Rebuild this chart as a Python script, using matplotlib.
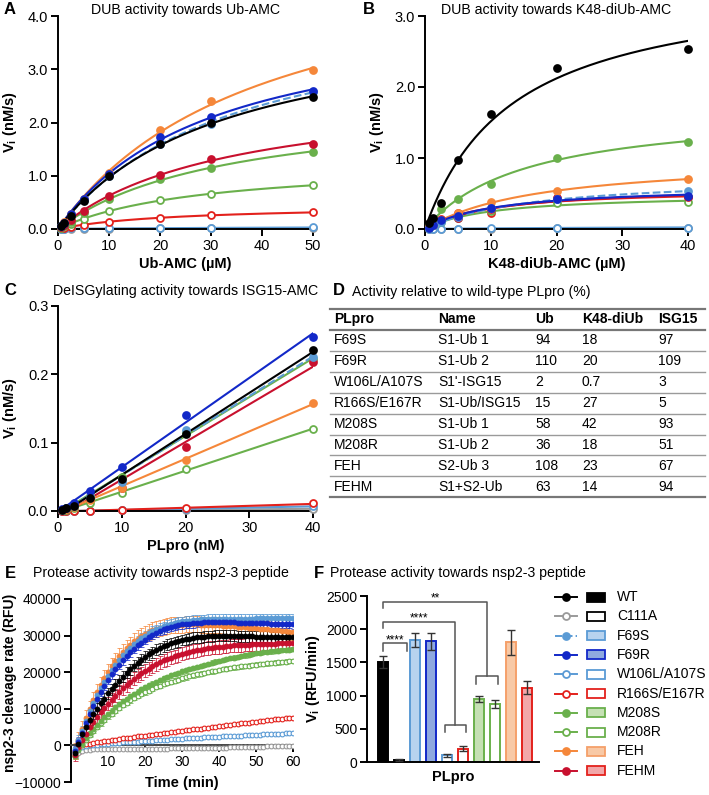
import numpy as np
import matplotlib
matplotlib.use('Agg')
import matplotlib.pyplot as plt
from matplotlib.patches import Rectangle

plt.rcParams['font.family'] = ['Liberation Sans', 'DejaVu Sans']
plt.rcParams['mathtext.fontset'] = 'custom'
plt.rcParams['mathtext.rm'] = 'Liberation Sans'
plt.rcParams['mathtext.bf'] = 'Liberation Sans:bold'
plt.rcParams['font.size'] = 10

# ---------------- data ----------------
variants = ['WT', 'C111A', 'F69S', 'F69R', 'W106L/A107S', 'R166S/E167R',
            'M208S', 'M208R', 'FEH', 'FEHM']
line_colors = ['#000000', '#9a9a9a', '#5b9bd5', '#1228c8', '#5b9bd5', '#e3211c',
               '#6ab04c', '#6ab04c', '#f5873a', '#c8102e']
filled = [True, False, True, True, False, False, True, False, True, True]
line_styles = ['-', '-', '--', '-', '-', '-', '-', '-', '-', '-']
bar_fill = ['#000000', '#ffffff', '#b7d3ef', '#8fa9df', '#ffffff', '#ffffff',
            '#c5e0b4', '#ffffff', '#f8c9a6', '#f2a7a9']
bar_edge = ['#000000', '#000000', '#5b9bd5', '#1228c8', '#5b9bd5', '#e3211c',
            '#6ab04c', '#6ab04c', '#f5a06a', '#e3211c']

# Panel A: Ub-AMC (uM) vs Vi (nM/s)
ub_conc = [0.625, 1.25, 2.5, 5, 10, 20, 30, 50]
ub_vi = {
    'WT':          [0.05, 0.11, 0.25, 0.52, 0.99, 1.59, 2.00, 2.47],
    'C111A':       [0.00, 0.00, 0.00, 0.00, 0.00, 0.01, 0.01, 0.01],
    'F69S':        [0.05, 0.12, 0.27, 0.55, 1.00, 1.60, 1.98, 2.58],
    'F69R':        [0.06, 0.12, 0.28, 0.57, 1.04, 1.73, 2.10, 2.60],
    'W106L/A107S': [0.00, 0.00, 0.01, 0.01, 0.01, 0.01, 0.02, 0.03],
    'R166S/E167R': [0.01, 0.02, 0.04, 0.08, 0.14, 0.21, 0.26, 0.31],
    'M208S':       [0.03, 0.07, 0.14, 0.30, 0.57, 0.94, 1.15, 1.45],
    'M208R':       [0.02, 0.05, 0.10, 0.19, 0.34, 0.54, 0.66, 0.82],
    'FEH':         [0.06, 0.13, 0.28, 0.56, 1.06, 1.86, 2.40, 2.98],
    'FEHM':        [0.04, 0.08, 0.17, 0.34, 0.62, 1.02, 1.32, 1.60],
}

# Panel B: K48-diUb-AMC (uM) vs Vi (nM/s)
k48_conc = [0.625, 1.25, 2.5, 5, 10, 20, 40]
k48_vi = {
    'WT':          [0.08, 0.16, 0.37, 0.97, 1.62, 2.27, 2.53],
    'C111A':       [0.00, 0.00, 0.00, 0.00, 0.00, 0.01, 0.01],
    'F69S':        [0.02, 0.05, 0.10, 0.17, 0.29, 0.42, 0.53],
    'F69R':        [0.02, 0.06, 0.12, 0.18, 0.30, 0.42, 0.47],
    'W106L/A107S': [0.00, 0.00, 0.00, 0.00, 0.01, 0.02, 0.02],
    'R166S/E167R': [0.03, 0.07, 0.14, 0.22, 0.23, 0.43, 0.45],
    'M208S':       [0.05, 0.12, 0.28, 0.42, 0.64, 1.00, 1.23],
    'M208R':       [0.02, 0.05, 0.10, 0.15, 0.25, 0.36, 0.38],
    'FEH':         [0.03, 0.06, 0.12, 0.22, 0.38, 0.54, 0.70],
    'FEHM':        [0.03, 0.06, 0.13, 0.15, 0.28, 0.44, 0.45],
}

# Panel C: PLpro (nM) vs Vi (nM/s) towards ISG15-AMC
isg_conc = [0.625, 1.25, 2.5, 5, 10, 20, 40]
isg_vi = {
    'WT':          [0.002, 0.004, 0.007, 0.019, 0.047, 0.112, 0.235],
    'C111A':       [0.000, 0.000, 0.000, 0.000, 0.001, 0.002, 0.003],
    'F69S':        [0.002, 0.004, 0.008, 0.020, 0.043, 0.118, 0.225],
    'F69R':        [0.003, 0.005, 0.012, 0.030, 0.065, 0.140, 0.255],
    'W106L/A107S': [0.000, 0.000, 0.000, 0.000, 0.001, 0.003, 0.007],
    'R166S/E167R': [0.000, 0.000, 0.000, 0.000, 0.001, 0.004, 0.011],
    'M208S':       [0.002, 0.004, 0.009, 0.022, 0.050, 0.115, 0.222],
    'M208R':       [0.001, 0.002, 0.004, 0.011, 0.027, 0.061, 0.120],
    'FEH':         [0.001, 0.003, 0.006, 0.016, 0.033, 0.075, 0.158],
    'FEHM':        [0.001, 0.003, 0.007, 0.018, 0.033, 0.093, 0.218],
}

# Panel D: table
table_header = ['PLpro', 'Name', 'Ub', 'K48-diUb', 'ISG15']
table_plpro = ['F69S', 'F69R', 'W106L/A107S', 'R166S/E167R', 'M208S', 'M208R', 'FEH', 'FEHM']
table_name = ['S1-Ub 1', 'S1-Ub 2', "S1'-ISG15", 'S1-Ub/ISG15', 'S1-Ub 1', 'S1-Ub 2', 'S2-Ub 3', 'S1+S2-Ub']
table_ub = ['94', '110', '2', '15', '58', '36', '108', '63']
table_k48 = ['18', '20', '0.7', '27', '42', '18', '23', '14']
table_isg = ['97', '109', '3', '5', '93', '51', '67', '94']

# Panel E: time course (min) vs RFU
time_min = list(range(1, 61))
nsp_rfu = {
    'WT': [-2000, 500, 3000, 5000, 7000, 8600, 10000, 11500, 12800, 14200,
           15400, 16600, 17700, 18800, 19800, 20800, 21700, 22600, 23400, 24200,
           24900, 25500, 26100, 26600, 27100, 27500, 27900, 28200, 28500, 28800,
           29000, 29200, 29400, 29500, 29600, 29700, 29800, 29800, 29900, 29900,
           29900, 29900, 29900, 29900, 29800, 29800, 29800, 29800, 29800, 29700,
           29700, 29700, 29700, 29600, 29600, 29600, 29600, 29500, 29500, 29500],
    'C111A': [-3000, -2000, -1500, -1300, -1200, -1100, -1100, -1000, -1000, -1000,
              -1000, -1000, -1000, -1000, -1000, -1000, -1000, -1000, -900, -900,
              -900, -900, -900, -900, -900, -900, -800, -800, -800, -800,
              -800, -800, -700, -700, -700, -700, -700, -600, -600, -600,
              -600, -600, -500, -500, -500, -500, -500, -400, -400, -400,
              -400, -400, -300, -300, -300, -300, -300, -200, -200, -200],
    'F69S': [-1000, 1500, 4000, 6800, 9300, 11600, 13700, 15600, 17400, 19000,
             20600, 22000, 23400, 24600, 25700, 26700, 27600, 28500, 29300, 30000,
             30600, 31200, 31700, 32100, 32500, 32900, 33200, 33500, 33700, 33900,
             34000, 34100, 34200, 34300, 34400, 34400, 34500, 34500, 34500, 34500,
             34500, 34500, 34600, 34600, 34600, 34600, 34600, 34600, 34600, 34700,
             34700, 34700, 34700, 34700, 34700, 34700, 34700, 34700, 34700, 34700],
    'F69R': [-1500, 1000, 3500, 6000, 8500, 10700, 12700, 14600, 16300, 17900,
             19400, 20800, 22100, 23300, 24400, 25400, 26400, 27300, 28100, 28900,
             29600, 30200, 30800, 31300, 31700, 32100, 32400, 32700, 32900, 33100,
             33200, 33300, 33400, 33500, 33500, 33600, 33600, 33600, 33600, 33600,
             33600, 33600, 33600, 33600, 33500, 33500, 33500, 33500, 33500, 33400,
             33400, 33400, 33400, 33300, 33300, 33300, 33200, 33200, 33200, 33100],
    'W106L/A107S': [-2000, -900, -400, -200, 0, 100, 200, 300, 400, 500,
                    550, 650, 700, 800, 850, 900, 1000, 1050, 1100, 1200,
                    1250, 1300, 1400, 1450, 1500, 1600, 1650, 1700, 1800, 1850,
                    1900, 1950, 2000, 2100, 2150, 2200, 2250, 2300, 2350, 2400,
                    2450, 2500, 2550, 2600, 2650, 2700, 2750, 2800, 2850, 2900,
                    2950, 3000, 3050, 3100, 3150, 3200, 3250, 3300, 3350, 3400],
    'R166S/E167R': [-1500, -600, 0, 300, 500, 700, 850, 1000, 1150, 1300,
                    1450, 1600, 1750, 1900, 2000, 2150, 2300, 2450, 2550, 2700,
                    2850, 2950, 3100, 3250, 3350, 3500, 3600, 3750, 3850, 4000,
                    4100, 4250, 4350, 4500, 4600, 4750, 4850, 5000, 5100, 5250,
                    5350, 5500, 5600, 5750, 5850, 6000, 6100, 6250, 6350, 6500,
                    6600, 6700, 6850, 6950, 7100, 7200, 7300, 7400, 7500, 7600],
    'M208S': [-3000, -1000, 500, 2000, 3300, 4500, 5600, 6700, 7700, 8600,
              9500, 10400, 11200, 12000, 12700, 13400, 14100, 14700, 15300, 15900,
              16400, 16900, 17400, 17900, 18300, 18700, 19100, 19500, 19800, 20200,
              20500, 20800, 21100, 21400, 21700, 22000, 22300, 22600, 22900, 23100,
              23400, 23600, 23800, 24000, 24200, 24400, 24600, 24800, 25000, 25200,
              25300, 25500, 25600, 25700, 25800, 25900, 26000, 26100, 26200, 26300],
    'M208R': [-3000, -1200, 200, 1500, 2800, 4000, 5000, 6000, 7000, 7900,
              8700, 9500, 10300, 11000, 11700, 12300, 12900, 13500, 14000, 14500,
              15000, 15500, 15900, 16300, 16700, 17100, 17400, 17700, 18000, 18300,
              18600, 18900, 19100, 19400, 19600, 19800, 20000, 20200, 20400, 20600,
              20800, 21000, 21100, 21300, 21400, 21600, 21700, 21800, 22000, 22100,
              22200, 22300, 22400, 22500, 22600, 22700, 22800, 22900, 23000, 23000],
    'FEH': [-1500, 1500, 4500, 7500, 10000, 12300, 14500, 16500, 18300, 20000,
            21600, 23000, 24300, 25500, 26600, 27500, 28400, 29200, 29900, 30500,
            31000, 31400, 31800, 32100, 32400, 32600, 32800, 32900, 33000, 33000,
            33100, 33100, 33100, 33100, 33000, 33000, 33000, 32900, 32900, 32800,
            32700, 32700, 32600, 32500, 32400, 32400, 32300, 32200, 32100, 32000,
            31900, 31800, 31700, 31600, 31500, 31400, 31300, 31200, 31100, 31000],
    'FEHM': [-2500, -500, 1500, 3200, 5000, 6300, 7700, 9000, 10200, 11400,
             12500, 13600, 14600, 15600, 16500, 17400, 18200, 19000, 19700, 20400,
             21000, 21600, 22200, 22700, 23200, 23600, 24000, 24400, 24700, 25000,
             25300, 25600, 25800, 26000, 26200, 26400, 26600, 26700, 26800, 26900,
             27000, 27100, 27200, 27300, 27300, 27400, 27500, 27500, 27600, 27600,
             27700, 27700, 27800, 27800, 27800, 27900, 27900, 27900, 28000, 28000],
}
nsp_err = [1500, 200, 1300, 1200, 200, 300, 600, 600, 2200, 1800]

# Panel F: bar chart Vi (RFU/min)
bar_vi = [1500, 30, 1840, 1820, 100, 200, 950, 870, 1800, 1120]
bar_err = [90, 15, 110, 130, 25, 40, 50, 60, 190, 100]

# ---------------- figure ----------------
W, H = 709, 795
fig = plt.figure(figsize=(W / 100, H / 100), dpi=100)


def px_axes(l, t, r, b):
    return fig.add_axes([l / W, 1 - b / H, (r - l) / W, (b - t) / H])


def ftext(x, y, s, **kw):
    fig.text(x / W, 1 - y / H, s, **kw)


def style(ax, ls=10.5):
    for s in ['top', 'right']:
        ax.spines[s].set_visible(False)
    for s in ['left', 'bottom']:
        ax.spines[s].set_linewidth(1.4)
    ax.tick_params(direction='out', length=5, width=1.4, labelsize=ls, pad=2)


def mm_fit(x, y):
    x = np.asarray(x, float)
    y = np.asarray(y, float)
    best = (np.inf, 0, 1)
    for km in np.linspace(0.2, 300, 3000):
        f = x / (km + x)
        vmax = (f @ y) / (f @ f)
        sse = np.sum((y - vmax * f) ** 2)
        if sse < best[0]:
            best = (sse, vmax, km)
    return best[1], best[2]


def marker_kw(i, ms=5.0):
    c = line_colors[i]
    return dict(marker='o', ms=ms, mec=c, mfc=c if filled[i] else 'white',
                mew=1.3, ls='none')


order = [1, 4, 5, 7, 6, 9, 8, 2, 3, 0]


def kinetic_panel(ax, conc, vals, fit):
    for i in order:
        name = variants[i]
        y = vals[name]
        if fit == 'mm':
            xs = np.linspace(0, max(conc), 300)
            vmax, km = mm_fit(conc, y)
            ys = vmax * xs / (km + xs)
        else:
            a, b = np.polyfit(conc, y, 1)
            xs = np.linspace(conc[0], max(conc), 50)
            ys = a * xs + b
        ax.plot(xs, ys, color=line_colors[i], lw=1.5, ls=line_styles[i],
                zorder=2 + order.index(i) * 0.1)
        ax.plot(conc, y, zorder=3 + order.index(i) * 0.1, clip_on=False,
                **marker_kw(i))


LBL = dict(fontweight='bold', fontsize=10.5)

# Panel A
axA = px_axes(58, 16, 313, 229)
kinetic_panel(axA, ub_conc, ub_vi, 'mm')
axA.set_xlim(0, 50)
axA.set_ylim(0, 4)
axA.set_xticks([0, 10, 20, 30, 40, 50])
axA.set_yticks([0, 1, 2, 3, 4])
axA.set_yticklabels(['0.0', '1.0', '2.0', '3.0', '4.0'])
style(axA)
axA.set_xlabel('Ub-AMC (µM)', labelpad=3, **LBL)
axA.set_ylabel(r'$\mathbf{V_i}$ (nM/s)', labelpad=6, **LBL)

# Panel B
axB = px_axes(425, 16, 688, 229)
kinetic_panel(axB, k48_conc, k48_vi, 'mm')
axB.set_xlim(0, 40)
axB.set_ylim(0, 3)
axB.set_xticks([0, 10, 20, 30, 40])
axB.set_yticks([0, 1, 2, 3])
axB.set_yticklabels(['0.0', '1.0', '2.0', '3.0'])
style(axB)
axB.set_xlabel('K48-diUb-AMC (µM)', labelpad=3, **LBL)
axB.set_ylabel(r'$\mathbf{V_i}$ (nM/s)', labelpad=6, **LBL)

# Panel C
axC = px_axes(58, 306, 313, 511)
kinetic_panel(axC, isg_conc, isg_vi, 'lin')
axC.set_xlim(0, 40)
axC.set_ylim(0, 0.3)
axC.set_xticks([0, 10, 20, 30, 40])
axC.set_yticks([0, 0.1, 0.2, 0.3])
axC.set_yticklabels(['0.0', '0.1', '0.2', '0.3'])
style(axC)
axC.set_xlabel('PLpro (nM)', labelpad=3, **LBL)
axC.set_ylabel(r'$\mathbf{V_i}$ (nM/s)', labelpad=6, **LBL)

# Panel D: table
axD = px_axes(325, 300, 709, 500)
axD.set_xlim(325, 709)
axD.set_ylim(500, 300)
axD.axis('off')
col_x = [334, 438, 535, 582, 658]
row_h = 20.9
y_head = 319.5
axD.plot([330, 705], [309, 309], color='#777777', lw=1.6)
axD.plot([330, 705], [330, 330], color='#777777', lw=1.6)
for j, h in enumerate(table_header):
    axD.text(col_x[j], y_head, h, ha='left', va='center', fontsize=10, fontweight='bold')
for r in range(len(table_plpro)):
    yc = 340.5 + r * row_h
    row = [table_plpro[r], table_name[r], table_ub[r], table_k48[r], table_isg[r]]
    for j, s in enumerate(row):
        axD.text(col_x[j], yc, s, ha='left', va='center', fontsize=10)
    yl = 330 + (r + 1) * row_h
    last = r == len(table_plpro) - 1
    axD.plot([330, 705], [yl, yl], color='#777777' if last else '#9a9a9a',
             lw=1.6 if last else 1.0)

# Panel E
axE = px_axes(71, 599, 293, 782)
for i in order:
    name = variants[i]
    c = line_colors[i]
    axE.errorbar(time_min, nsp_rfu[name], yerr=nsp_err[i], fmt='none',
                 ecolor=c, elinewidth=0.7, capsize=1.8, capthick=0.7, alpha=0.75,
                 zorder=2)
    axE.plot(time_min, nsp_rfu[name], zorder=3, **dict(marker_kw(i, ms=3.4), mew=0.8))
axE.set_xlim(0, 60)
axE.set_ylim(-10000, 40000)
style(axE, ls=10)
axE.spines['bottom'].set_position(('data', 0))
axE.spines['bottom'].set_color('#444444')
axE.set_xticks([10, 20, 30, 40, 50, 60])
axE.set_yticks([-10000, 0, 10000, 20000, 30000, 40000])
axE.text(0.5, -0.005, 'Time (min)', transform=axE.transAxes, ha='center', va='center',
         fontweight='bold', fontsize=10.5)
ftext(10, 683, 'nsp2-3 cleavage rate (RFU)', rotation=90, ha='center', va='center',
      fontweight='bold', fontsize=10)

# Panel F
axF = px_axes(367, 596, 539, 762)
xpos = np.arange(len(variants))
axF.bar(xpos, bar_vi, width=0.62, color=bar_fill, edgecolor=bar_edge, linewidth=1.4,
        zorder=2)
axF.errorbar(xpos, bar_vi, yerr=bar_err, fmt='none', ecolor='#333333', elinewidth=1.0,
             capsize=3, capthick=1.0, zorder=3)
axF.set_xlim(-1.0, 9.75)
axF.set_ylim(0, 2500)
axF.set_yticks([0, 500, 1000, 1500, 2000, 2500])
axF.set_xticks([])
style(axF, ls=10)
axF.set_xlabel('PLpro', labelpad=6, **LBL)
axF.set_ylabel(r'$\mathbf{V_i}$ (RFU/min)', labelpad=3, **LBL)

bk = dict(color='#555555', lw=1.1, clip_on=False, zorder=4)
# WT vs C111A
axF.plot([0, 0, 1.5, 1.5], [1674, 1786, 1786, 1674], **bk)
axF.text(0.77, 1830, '****', ha='center', va='center', fontsize=8.5)
# WT vs W106L/R166S
axF.plot([0, 0, 4.5, 4.5], [2012, 2102, 2102, 564], **bk)
axF.plot([3.87, 3.87, 5.16, 5.16], [452, 564, 564, 452], **bk)
axF.text(2.27, 2160, '****', ha='center', va='center', fontsize=8.5)
# WT vs M208
axF.plot([0, 0, 6.5, 6.5], [2313, 2413, 2413, 1293], **bk)
axF.plot([5.81, 5.81, 7.16, 7.16], [1182, 1293, 1293, 1182], **bk)
axF.text(3.27, 2470, '**', ha='center', va='center', fontsize=8.5)

# Legend
axL = px_axes(552, 587, 709, 781)
axL.set_xlim(0, 157)
axL.set_ylim(194, 0)
axL.axis('off')
for i, name in enumerate(variants):
    yc = 10 + 19.3 * i
    c = line_colors[i]
    axL.plot([3, 25], [yc, yc], color=c, lw=1.4, ls=line_styles[i])
    axL.plot([14], [yc], **marker_kw(i, ms=5))
    axL.add_patch(Rectangle((35, yc - 4.5), 18, 9, facecolor=bar_fill[i],
                            edgecolor=bar_edge[i], lw=1.3))
    axL.text(65, yc, name, ha='left', va='center', fontsize=10)

# Titles and panel letters
TT = dict(va='center', fontsize=10.2)
ftext(186, 10, 'DUB activity towards Ub-AMC', ha='center', **TT)
ftext(556, 10, 'DUB activity towards K48-diUb-AMC', ha='center', **TT)
ftext(186, 291, 'DeISGylating activity towards ISG15-AMC', ha='center', **TT)
ftext(352, 292, 'Activity relative to wild-type PLpro (%)', ha='left', **TT)
ftext(161, 573, 'Protease activity towards nsp2-3 peptide', ha='center', **TT)
ftext(330, 573, 'Protease activity towards nsp2-3 peptide', ha='left', **TT)
for lx, ly, lt in [(10, 10, 'A'), (369, 10, 'B'), (10, 291, 'C'), (339, 291, 'D'),
                   (10, 573, 'E'), (319, 573, 'F')]:
    ftext(lx, ly, lt, ha='center', va='center', fontsize=12, fontweight='bold')

fig.savefig('out.png', dpi=100)
